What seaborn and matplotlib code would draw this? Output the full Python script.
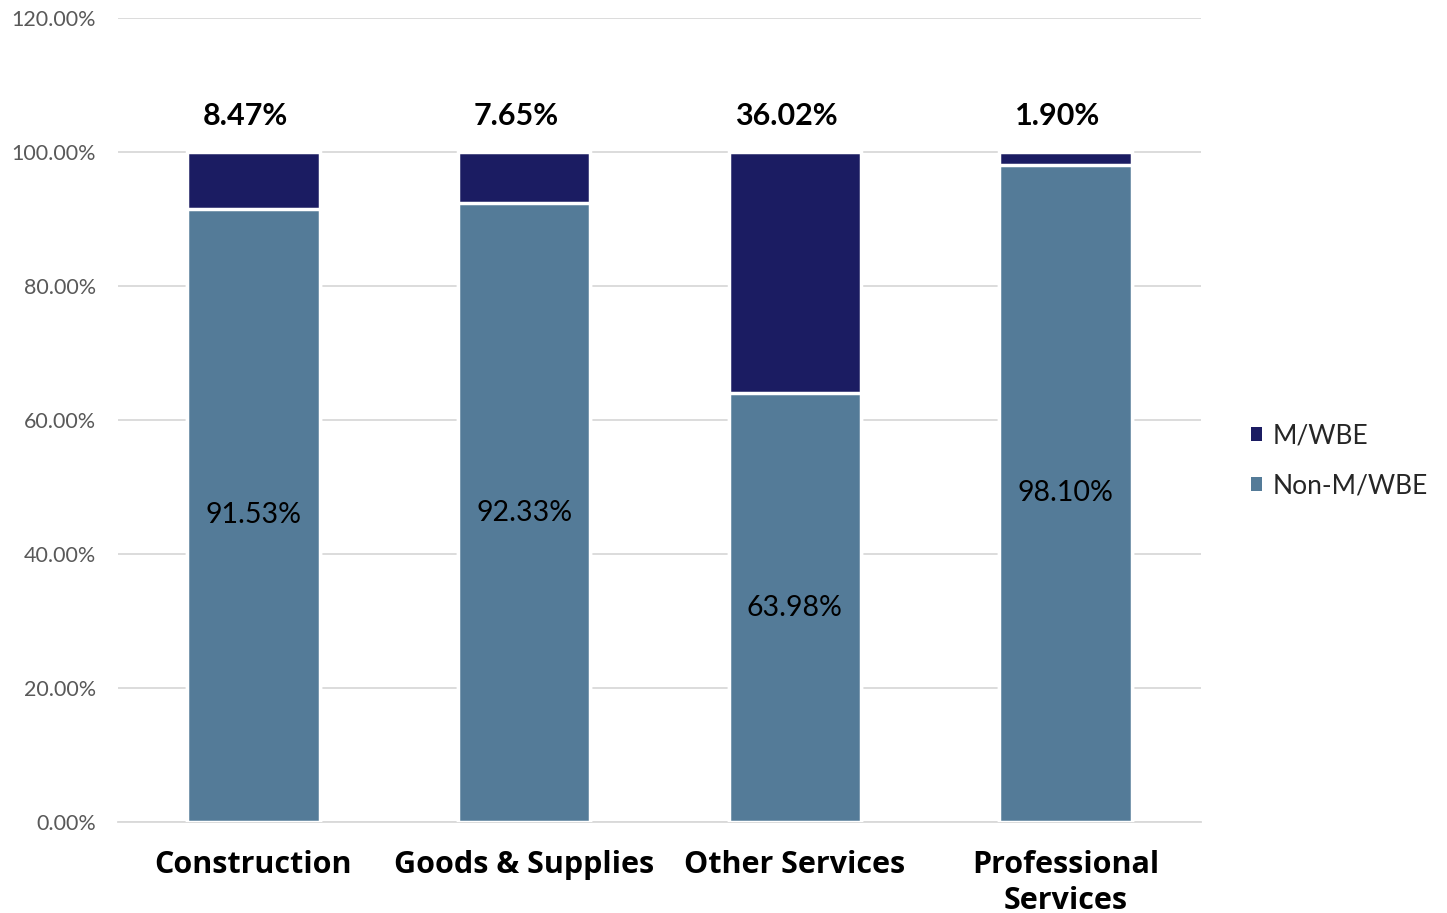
import matplotlib
matplotlib.use("Agg")
import matplotlib.pyplot as plt
import seaborn as sns
import pandas as pd
from matplotlib.patches import Patch
from matplotlib.ticker import FixedLocator

categories = ["Construction", "Goods & Supplies", "Other Services", "Professional\nServices"]
mwbe = [8.47, 7.65, 36.02, 1.90]
non_mwbe = [91.53, 92.33, 63.98, 98.10]
y_ticks = [0, 20, 40, 60, 80, 100, 120]

NAVY = "#1b1c62"
STEEL = "#547b98"

sns.set_theme(style="white")
plt.rcParams["font.family"] = ["Lato", "DejaVu Sans"]

df = pd.DataFrame({
    "category": categories,
    "mwbe": mwbe,
    "non_mwbe": non_mwbe,
})
df["total"] = df["mwbe"] + df["non_mwbe"]

fig = plt.figure(figsize=(14.47, 9.13), dpi=100)
ax = fig.add_axes([118 / 1447, 1 - 822 / 913, (1201 - 118) / 1447, (822 - 18) / 913])

# stacked bars: full total in navy, Non-M/WBE drawn over the lower part
sns.barplot(data=df, x="category", y="total", color=NAVY, saturation=1,
            width=0.49, edgecolor="white", linewidth=2.5, ax=ax, zorder=3)
sns.barplot(data=df, x="category", y="non_mwbe", color=STEEL, saturation=1,
            width=0.49, edgecolor="white", linewidth=2.5, ax=ax, zorder=4)

ax.set_ylim(0, 120)
ax.set_xlim(-0.5, len(categories) - 0.5)
ax.set_yticks(y_ticks)
ax.set_yticklabels([f"{v:.2f}%" for v in y_ticks], color="#595959", fontsize=15.5)
ax.yaxis.grid(True, color="#d9d9d9", linewidth=1.3, zorder=0)
ax.set_axisbelow(True)
ax.set_xlabel("")
ax.set_ylabel("")

ax.set_xticks(range(len(categories)))
ax.set_xticklabels(categories, fontsize=22, fontweight="bold", color="black",
                   family=["Open Sans", "DejaVu Sans"], linespacing=1.25)
ax.xaxis.set_minor_locator(FixedLocator([i - 0.5 for i in range(len(categories) + 1)]))
ax.tick_params(axis="x", which="major", length=0, pad=20)
ax.tick_params(axis="x", which="minor", length=9, width=1.3, color="#d9d9d9", direction="out")
ax.tick_params(axis="y", length=0, pad=16)

for side in ["left", "right", "top"]:
    ax.spines[side].set_visible(False)
ax.spines["bottom"].set_color("#d9d9d9")
ax.spines["bottom"].set_linewidth(1.3)

for i, (m, n) in enumerate(zip(mwbe, non_mwbe)):
    ax.text(i - 0.03, 105.3, f"{m:.2f}%", ha="center", va="center",
            fontsize=22, fontweight="bold", color="black", zorder=6)
    ax.text(i, n / 2, f"{n:.2f}%", ha="center", va="center",
            fontsize=20.5, color="black", zorder=6)

handles = [Patch(facecolor=NAVY, edgecolor="none", label="M/WBE"),
           Patch(facecolor=STEEL, edgecolor="none", label="Non-M/WBE")]
fig.legend(handles=handles, loc="center left", bbox_to_anchor=(1240 / 1447, 1 - 461 / 913),
           frameon=False, fontsize=19, handlelength=0.45, handleheight=0.45,
           handletextpad=0.4, labelspacing=0.95, borderpad=0.2, borderaxespad=0.2)

fig.savefig("out.png", dpi=100)
